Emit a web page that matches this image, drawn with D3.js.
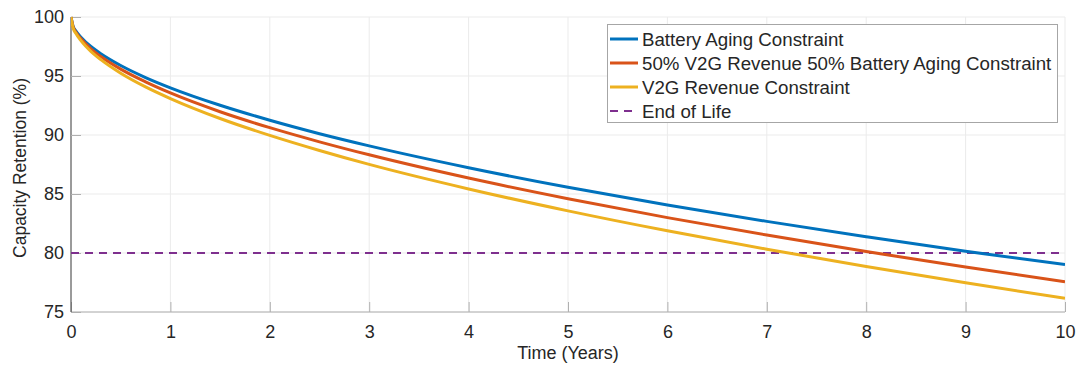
<!DOCTYPE html>
<html><head><meta charset="utf-8">
<script src="https://cdn.jsdelivr.net/npm/d3@7"></script>
<style>body{margin:0;background:#fff}svg{display:block}text{font-family:"Liberation Sans",Arial,sans-serif;fill:#262626}</style>
</head><body><svg id="c" width="1083" height="367"></svg>
<script>
const years = [0,0.02,0.05,0.1,0.2,0.3,0.5,0.75,1,1.5,2,2.5,3,4,5,6,7,8,9,10];
const batteryAging = [100,99.25,98.8,98.29,97.5,96.89,95.89,94.87,94.0,92.52,91.25,90.11,89.08,87.23,85.57,84.07,82.68,81.38,80.14,79.02];
const mixed5050 = [100,99.2,98.7,98.15,97.3,96.65,95.58,94.5,93.56,91.97,90.62,89.42,88.32,86.35,84.6,83.0,81.52,80.12,78.82,77.56];
const v2gRevenue = [100,99.1,98.6,98.0,97.09,96.39,95.24,94.08,93.09,91.4,89.97,88.69,87.51,85.43,83.57,81.88,80.32,78.86,77.47,76.16];
const endOfLife = [80,80];
const xTicks = [0,1,2,3,4,5,6,7,8,9,10];
const yTicks = [75,80,85,90,95,100];
const seriesNames = ["Battery Aging Constraint","50% V2G Revenue 50% Battery Aging Constraint","V2G Revenue Constraint","End of Life"];
const colors = ["#0072BD","#D95319","#EDB120","#7E2F8E"];

const svg = d3.select("#c");
const L=71,R=1065,T=17,B=312;
const x = d3.scaleLinear().domain([0,10]).range([L,R]);
const y = d3.scaleLinear().domain([75,100]).range([B,T]);

// grid
svg.append("g").selectAll("line").data(xTicks).join("line")
  .attr("x1",d=>x(d)).attr("x2",d=>x(d)).attr("y1",T).attr("y2",B)
  .attr("stroke","#ebebeb").attr("stroke-width",1);
svg.append("g").selectAll("line").data(yTicks).join("line")
  .attr("x1",L).attr("x2",R).attr("y1",d=>y(d)).attr("y2",d=>y(d))
  .attr("stroke","#ebebeb").attr("stroke-width",1);

// axes
const xAxis = svg.append("g").attr("transform",`translate(0,${B})`)
  .call(d3.axisBottom(x).tickValues(xTicks).tickSize(-10).tickPadding(13).tickFormat(d3.format("d")));
const yAxis = svg.append("g").attr("transform",`translate(${L},0)`)
  .call(d3.axisLeft(y).tickValues(yTicks).tickSize(-10).tickPadding(16).tickFormat(d3.format("d")));
xAxis.select(".domain").attr("stroke","#b0b0b0").attr("d",`M${L},0H${R}`);
yAxis.select(".domain").attr("stroke","#404040").attr("d",`M0,${B}V${T}`);
[xAxis,yAxis].forEach(a=>{
  a.selectAll(".tick line").attr("stroke","#b0b0b0");
  a.selectAll(".tick text").attr("font-size",18).attr("fill","#262626").attr("font-family","Liberation Sans, Arial, sans-serif");
});
yAxis.selectAll(".tick text").attr("dx",9);
xAxis.selectAll(".tick text").attr("dy","0.71em");

svg.append("text").attr("x",(L+R)/2).attr("y",359).attr("text-anchor","middle").attr("font-size",18).text("Time (Years)");
svg.append("text").attr("transform",`translate(26,168) rotate(-90)`).attr("text-anchor","middle").attr("font-size",17.5).text("Capacity Retention (%)");

// clip
svg.append("clipPath").attr("id","clip").append("rect").attr("x",L).attr("y",T-3).attr("width",R-L).attr("height",B-T+3);
const g = svg.append("g").attr("clip-path","url(#clip)");

const line = d3.line().x(d=>x(d[0])).y(d=>y(d[1])).curve(d3.curveMonotoneX);
g.append("path").datum([[0,endOfLife[0]],[10,endOfLife[1]]]).attr("d",line)
  .attr("fill","none").attr("stroke",colors[3]).attr("stroke-width",2).attr("stroke-dasharray","8,6");
[batteryAging,mixed5050,v2gRevenue].forEach((s,i)=>{
  g.append("path").datum(years.map((t,j)=>[t,s[j]])).attr("d",line)
   .attr("fill","none").attr("stroke",colors[i]).attr("stroke-width",3).attr("stroke-linejoin","round");
});

// legend
const lg = svg.append("g");
lg.append("rect").attr("x",607.5).attr("y",24.5).attr("width",450).attr("height",98)
  .attr("fill","#fff").attr("stroke","#a6a6a6").attr("stroke-width",1);
const ly=[39,63,87,111];
seriesNames.forEach((n,i)=>{
  lg.append("line").attr("x1",610).attr("x2",638).attr("y1",ly[i]).attr("y2",ly[i])
    .attr("stroke",colors[i]).attr("stroke-width",i<3?3:2).attr("stroke-dasharray",i<3?null:"8,6");
  lg.append("text").attr("x",642).attr("y",ly[i]).attr("dy","0.35em").attr("font-size",18.7).attr("fill","#000").text(n);
});
</script></body></html>
